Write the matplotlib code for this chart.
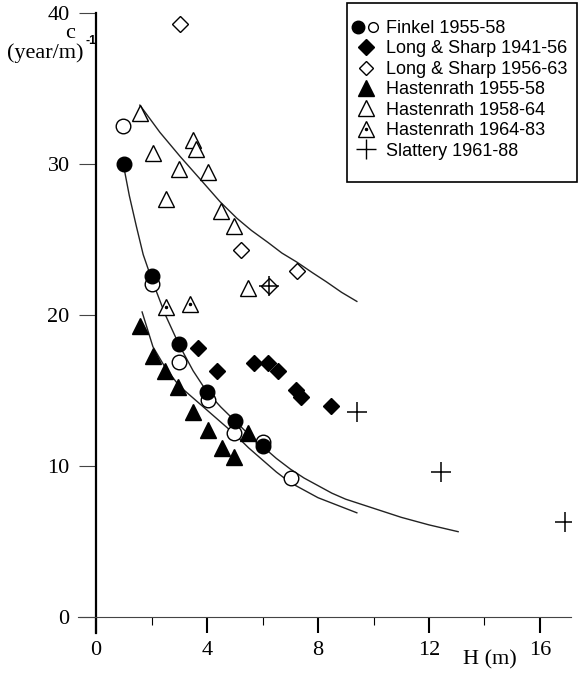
import matplotlib.pyplot as plt
from matplotlib.lines import Line2D
from matplotlib.patches import Rectangle
from matplotlib.legend_handler import HandlerTuple

# Finkel 1955-58 (filled and open circles)
finkel_fill_h = [1.0, 2.0, 3.0, 4.0, 5.0, 6.0]
finkel_fill_c = [30.0, 22.6, 18.1, 14.9, 13.0, 11.3]
finkel_open_h = [0.98, 2.0, 3.0, 4.03, 4.97, 6.0, 7.03]
finkel_open_c = [32.5, 22.05, 16.9, 14.4, 12.2, 11.6, 9.2]

# Long & Sharp
ls4156_h = [3.68, 4.36, 5.7, 6.2, 6.57, 7.2, 7.4, 8.47]
ls4156_c = [17.8, 16.3, 16.8, 16.8, 16.3, 15.0, 14.6, 14.0]
ls5663_h = [3.03, 5.22, 7.23, 6.24]
ls5663_c = [39.3, 24.3, 22.9, 21.9]

# Hastenrath
h5558_h = [1.58, 2.06, 2.5, 2.95, 3.5, 4.03, 4.55, 4.97, 5.48]
h5558_c = [19.3, 17.3, 16.3, 15.2, 13.6, 12.4, 11.2, 10.6, 12.2]
h5864_h = [1.58, 2.05, 3.0, 4.04, 2.52, 4.5, 4.97, 5.48, 3.5, 3.62]
h5864_c = [33.4, 30.7, 29.7, 29.5, 27.7, 26.9, 25.9, 21.8, 31.6, 31.0]
h6483_h = [2.52, 3.39]
h6483_c = [20.5, 20.7]

# Slattery 1961-88
slat_h = [6.24, 9.4, 12.43, 16.9]
slat_c = [21.9, 13.6, 9.6, 6.3]

# fitted curves (traced)
fit_upper_h = [1.58, 2.3, 3.03, 3.8, 4.47, 5.08, 5.6, 6.2, 6.7, 7.24, 7.8, 8.3, 8.85, 9.4]
fit_upper_c = [33.9, 32.1, 30.5, 28.9, 27.5, 26.4, 25.6, 24.8, 24.1, 23.5, 22.8, 22.2, 21.5, 20.9]
fit_finkel_h = [0.97, 1.2, 1.45, 1.7, 2.0, 2.5, 3.0, 3.5, 4.0, 4.5, 5.0, 5.5, 6.0, 6.5,
                7.0, 7.5, 8.0, 8.5, 9.0, 10.0, 11.0, 12.0, 13.05]
fit_finkel_c = [30.1, 27.9, 25.9, 24.0, 22.4, 20.0, 18.0, 16.3, 14.9, 13.9, 13.0, 12.1,
                11.3, 10.5, 9.8, 9.2, 8.7, 8.2, 7.8, 7.2, 6.6, 6.1, 5.65]
fit_hast_h = [1.66, 2.05, 2.5, 3.0, 3.5, 4.0, 4.5, 5.0, 5.5, 6.0, 6.5, 7.0, 7.5, 8.0,
              8.7, 9.4]
fit_hast_c = [20.2, 17.9, 16.5, 15.3, 14.5, 13.7, 12.9, 12.1, 11.2, 10.4, 9.6, 8.9,
              8.4, 7.9, 7.4, 6.9]

x_ticks = [0, 4, 8, 12, 16]
y_ticks = [0, 10, 20, 30, 40]

W, H = 583, 689
fig = plt.figure(figsize=(W / 100, H / 100), dpi=100)
fig.patch.set_facecolor("white")
ax = fig.add_axes([78 / W, 1 - 633 / H, (570.5 - 78) / W, (633 - 13) / H])
ax.set_xlim(-0.65, 17.1)
ax.set_ylim(-1.06, 40)

serif = "Liberation Serif"
sans = "Liberation Sans"

for h, c in [(fit_upper_h, fit_upper_c), (fit_finkel_h, fit_finkel_c), (fit_hast_h, fit_hast_c)]:
    ax.plot(h, c, color="#222222", lw=1.0, zorder=2)

mk = dict(linestyle="none", markeredgecolor="black", zorder=3)
ax.plot(finkel_open_h, finkel_open_c, marker="o", ms=10.5, mfc="white", mew=1.0, **mk)
ax.plot(finkel_fill_h, finkel_fill_c, marker="o", ms=10.5, mfc="black", **mk)
ax.plot(ls4156_h, ls4156_c, marker="D", ms=8.5, mfc="black", **mk)
ax.plot(ls5663_h, ls5663_c, marker="D", ms=8, mfc="white", mew=1.0, **mk)
ax.plot(h5558_h, h5558_c, marker="^", ms=11, mfc="black", **mk)
ax.plot(h5864_h, h5864_c, marker="^", ms=11, mfc="white", mew=1.0, **mk)
ax.plot(h6483_h, h6483_c, marker="^", ms=11, mfc="white", mew=1.0, **mk)
ax.plot(h6483_h, h6483_c, marker=".", ms=3, color="black", linestyle="none", zorder=4)
ax.plot(slat_h, slat_c, marker="+", ms=15, mew=1.1, color="black", linestyle="none", zorder=4)

# axes as crossing lines at zero
for s in ["top", "right"]:
    ax.spines[s].set_visible(False)
ax.spines["left"].set_position(("data", 0))
ax.spines["bottom"].set_position(("data", 0))
ax.spines["left"].set_linewidth(1.6)
ax.spines["bottom"].set_linewidth(0.8)
ax.spines["bottom"].set_color("#444444")

ax.set_xticks(x_ticks)
ax.set_xticks([2, 6, 10, 14], minor=True)
ax.set_yticks(y_ticks)
ax.tick_params(axis="x", which="major", direction="out", length=11.5, width=1.5, pad=6)
ax.tick_params(axis="x", which="minor", direction="out", length=6, width=0.8)
ax.tick_params(axis="y", direction="out", length=12, width=0.8, color="#444444", pad=7)
for lab in ax.get_xticklabels() + ax.get_yticklabels():
    lab.set_fontfamily(serif)
    lab.set_fontsize(16)

fig.text(70 / W, 1 - 34 / H, "c", family=serif, fontsize=16, ha="center", va="center")
fig.text(45 / W, 1 - 53 / H, "(year/m)", family=serif, fontsize=16, ha="center", va="center")
fig.text(91 / W, 1 - 41 / H, "-1", family=sans, fontsize=9, fontweight="bold",
         ha="center", va="center")
fig.text(490 / W, 1 - 660 / H, "H (m)", family=serif, fontsize=16, ha="center", va="center")

dot_tri = (Line2D([], [], marker="^", ms=11, mfc="white", mec="black", ls="none"),
           Line2D([], [], marker=".", ms=3, color="black", ls="none"))
handles = [
    (Line2D([], [], marker="o", ms=9, mfc="black", mec="black", ls="none"),
     Line2D([], [], marker="o", ms=7, mfc="white", mec="black", ls="none")),
    Line2D([], [], marker="D", ms=8, mfc="black", mec="black", ls="none"),
    Line2D([], [], marker="D", ms=7, mfc="white", mec="black", ls="none"),
    Line2D([], [], marker="^", ms=11, mfc="black", mec="black", ls="none"),
    Line2D([], [], marker="^", ms=11, mfc="white", mec="black", ls="none"),
    dot_tri,
    Line2D([], [], marker="+", ms=14, mew=1.0, color="black", ls="none"),
]
labels = ["Finkel 1955-58", "Long & Sharp 1941-56", "Long & Sharp 1956-63",
          "Hastenrath 1955-58", "Hastenrath 1958-64", "Hastenrath 1964-83",
          "Slattery 1961-88"]
# legend box drawn separately (text sits close to its right edge in the original)
box = Rectangle((347 / W, 1 - 182 / H), 230 / W, 179 / H, transform=fig.transFigure,
                facecolor="white", edgecolor="black", linewidth=1.2, zorder=5,
                clip_on=False)
ax.add_patch(box)
leg = ax.legend(handles, labels, loc="upper left",
                bbox_to_anchor=(352 / W, 1 - 20 / H), bbox_transform=fig.transFigure,
                borderaxespad=0, prop={"family": sans, "size": 13},
                handlelength=1.5, handletextpad=0.39, labelspacing=0.19,
                borderpad=0, frameon=False,
                handler_map={tuple: HandlerTuple(ndivide=None, pad=0.1),
                             dot_tri: HandlerTuple(ndivide=1)})
leg.set_zorder(6)

fig.savefig("out.png", dpi=100)
